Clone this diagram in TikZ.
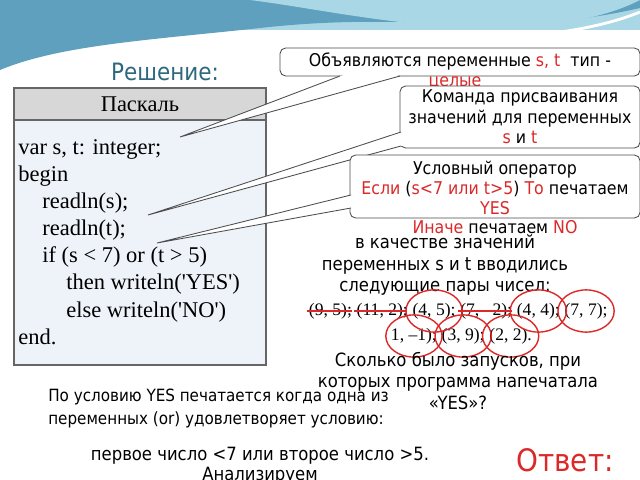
\documentclass[tikz,border=0pt]{standalone}
\usepackage{fontspec}
\setmainfont{DejaVu Sans Condensed}
\newfontfamily\codefont{Liberation Serif}
\usetikzlibrary{positioning,shapes.geometric}
\definecolor{wavedark}{RGB}{95,160,190}
\definecolor{wavelight}{RGB}{170,215,230}
\definecolor{titleblue}{RGB}{45,105,125}
\definecolor{hdrgray}{RGB}{215,215,215}
\definecolor{codebg}{RGB}{238,243,249}
\definecolor{mark}{RGB}{220,40,40}
\tikzset{
    callout/.style={draw=black!70, rounded corners=4pt, fill=white, line width=0.6pt},
    tail/.style={draw=black!70, fill=white, line width=0.6pt},
    txt/.style={font=\fontsize{12.5}{14.5}\selectfont, inner sep=0pt, align=center},
    big/.style={font=\fontsize{13}{15.5}\selectfont},
    code/.style={font=\codefont\fontsize{16}{18}\selectfont, anchor=base west, inner sep=0pt},
    pair/.style={font=\codefont\fontsize{12.5}{14}\selectfont, inner sep=0.5pt},
    ring/.style={draw=mark, line width=1pt},
    strike/.style={draw=mark, line width=1.2pt},
}
\begin{document}
\begin{tikzpicture}[x=0.025cm, y=-0.025cm]
 \useasboundingbox (0,0) rectangle (640,480);
 % background wave
 \fill[wavelight] (0,0) rectangle (640,30);
 \fill[wavedark] (0,0) -- (640,0) -- (640,8) .. controls (500,40) and (420,10) .. (260,28) .. controls (150,40) and (60,45) .. (0,70) -- cycle;
 \fill[wavelight] (250,0) .. controls (330,10) and (430,35) .. (540,25) .. controls (600,20) and (630,5) .. (640,0) -- cycle;
 \draw[white, line width=2pt] (0,72) .. controls (80,45) and (200,35) .. (300,38) .. controls (420,42) and (560,45) .. (640,12);

 \node[txt, text=titleblue, font=\fontsize{17}{19}\selectfont] (title) at (165,72) {Решение:};

 % table
 \fill[codebg] (14,120) rectangle (266,365);
 \fill[hdrgray] (14,88) rectangle (266,120);
 \draw[black!60, line width=0.8pt] (14,88) rectangle (266,365) (14,120) -- (266,120);
 \node[font=\codefont\fontsize{16}{18}\selectfont] (hdr) at (140,104) {Паскаль};
 \node[code] (c1) at (18,154) {var s, t: integer;};
 \node[code] (c2) at (18,181) {begin};
 \node[code] (c3) at (42,208) {readln(s);};
 \node[code] (c4) at (42,235) {readln(t);};
 \node[code] (c5) at (42,262) {if (s < 7) or (t > 5)};
 \node[code] (c6) at (66,289) {then writeln('YES')};
 \node[code] (c7) at (66,317) {else writeln('NO')};
 \node[code] (c8) at (18,344) {end.};

 % callouts
 \coordinate (t1) at (180,137);
 \coordinate (t2) at (148,215);
 \coordinate (t3) at (157,243);
 \draw[callout] (280,48) rectangle (640,76);
 \fill[white] (341,74) -- (399,74) -- (395,78) -- (345,78) -- cycle;
 \draw[tail] (340,76) -- (t1) -- (400,76);
 \node[txt] (n1) at (460,62) {Объявляются переменные \textcolor{mark}{s, t}\ \ тип -};
 \node[txt, text=mark] (n1b) at (455,83) {целые};

 \draw[callout] (400,86) rectangle (640,148);
 \fill[white] (401,131) rectangle (406,146);
 \draw[tail] (401,132) -- (t2) -- (401,146);
 \node[txt] (n2) at (520,117) {Команда присваивания\\значений для переменных\\\textcolor{mark}{s} и \textcolor{mark}{t}};

 \draw[callout] (350,155) rectangle (640,218);
 \fill[white] (351,195) rectangle (356,208);
 \draw[tail] (351,195) -- (t3) -- (351,208);
 \node[txt] (n3) at (495,188) {Условный оператор\\\textcolor{mark}{Если} (\textcolor{mark}{s<7 или t>5}) \textcolor{mark}{То} печатаем\\\textcolor{mark}{YES}};
 \node[txt] (n3b) at (495,227) {\textcolor{mark}{Иначе} печатаем \textcolor{mark}{NO}};

 % task text
 \node[txt, big] (task) at (445,265) {в качестве значений\\переменных s и t вводились\\следующие пары чисел:};
 \node[pair, anchor=west] (p1) at (308,311) {(9, 5);};
 \node[pair, right=2pt of p1] (p2) {(11, 2);};
 \node[pair, right=2pt of p2] (p3) {(4, 5);};
 \node[pair, right=2pt of p3] (p4) {(7, –2);};
 \node[pair, right=2pt of p4] (p5) {(4, 4);};
 \node[pair, right=2pt of p5] (p6) {(7, 7);};
 \node[pair, anchor=west] (p7) at (390,336) {1, –1);};
 \node[pair, right=2pt of p7] (p8) {(3, 9);};
 \node[pair, right=2pt of p8] (p9) {(2, 2).};
 \foreach \p in {p1,p2,p4}
   \draw[strike] ([xshift=-1pt]\p.west) -- ([xshift=-1pt]\p.east);
 \foreach \p in {p3,p5,p6,p7,p8,p9}
   \draw[ring] (\p) ellipse (20pt and 15pt);

 \node[txt, big] (question) at (458,381) {Сколько было запусков, при\\которых программа напечатала\\«YES»?};
 \node[txt, align=left, anchor=north west, font=\fontsize{12}{16}\selectfont] (cond) at (48,389) {По условию YES печатается когда одна из\\переменных (or) удовлетворяет условию:};
 \node[txt, big] (first) at (260,456) {первое число <7 или второе число >5.};
 \node[txt, big, anchor=north] (anal) at (260,467) {Анализируем};
 \node[txt, text=mark, font=\fontsize{22}{24}\selectfont] (answer) at (565,460) {Ответ:};
\end{tikzpicture}
\end{document}
